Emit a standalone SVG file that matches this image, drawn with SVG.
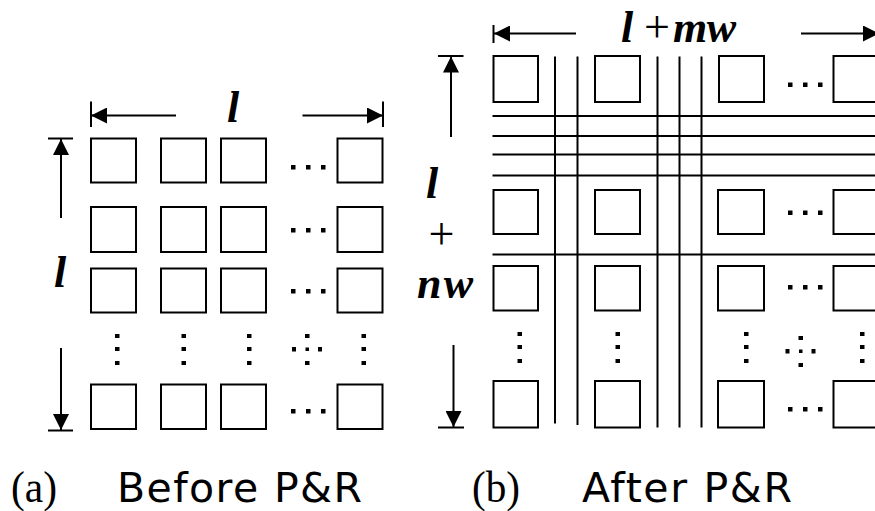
<svg xmlns="http://www.w3.org/2000/svg" width="875" height="511" viewBox="0 0 875 511">
  <defs>
    <style>
      .ln { stroke: #000; stroke-width: 2; fill: none; }
      .cell { stroke: #000; stroke-width: 2; fill: #fff; }
      .dot { fill: #000; }
      .math { font-family: "Liberation Serif", "Times New Roman", serif; font-style: italic; font-weight: bold; font-size: 44px; fill: #000; }
      .op { font-family: "Liberation Serif", "Times New Roman", serif; font-size: 46px; fill: #000; }
      .cap { font-family: "Liberation Serif", "Times New Roman", serif; font-size: 45px; fill: #000; }
      .title { font-family: "DejaVu Sans", Verdana, sans-serif; font-size: 41px; fill: #000; }
    </style>
    <marker id="head" viewBox="0 0 16 16" refX="16" refY="8" markerWidth="16" markerHeight="16" markerUnits="userSpaceOnUse" orient="auto">
      <path d="M0,0 L16,8 L0,16 Z" fill="#000"/>
    </marker>
    <g id="hdots">
      <rect x="-17" y="-2" width="4.5" height="4.5" class="dot"/>
      <rect x="-2" y="-2" width="4.5" height="4.5" class="dot"/>
      <rect x="13" y="-2" width="4.5" height="4.5" class="dot"/>
    </g>
    <g id="vdots">
      <rect x="-2" y="-15" width="4.5" height="4" class="dot"/>
      <rect x="-2" y="-2" width="4.5" height="4" class="dot"/>
      <rect x="-2" y="12" width="4.5" height="4" class="dot"/>
    </g>
    <g id="xdots">
      <rect x="-2" y="-15" width="4.5" height="4" class="dot"/>
      <rect x="-15" y="-2" width="4" height="4.5" class="dot"/>
      <rect x="-1.5" y="-1.5" width="3.5" height="3.5" class="dot"/>
      <rect x="11" y="-2" width="4" height="4.5" class="dot"/>
      <rect x="-2" y="12" width="4.5" height="4" class="dot"/>
    </g>
  </defs>
  <rect width="875" height="511" fill="#fff"/>

  <!-- (a) array before placement and routing -->
  <g id="array-a">
    <g id="a-row1">
      <rect class="cell" x="91" y="138.5" width="45" height="44"/>
      <rect class="cell" x="161" y="138.5" width="45" height="44"/>
      <rect class="cell" x="221" y="138.5" width="45" height="44"/>
      <rect class="cell" x="337.5" y="138.5" width="45" height="44"/>
      <use href="#hdots" x="308" y="167"/>
    </g>
    <g id="a-row2">
      <rect class="cell" x="91" y="207" width="45" height="45"/>
      <rect class="cell" x="161" y="207" width="45" height="45"/>
      <rect class="cell" x="221" y="207" width="45" height="45"/>
      <rect class="cell" x="337.5" y="207" width="45" height="45"/>
      <use href="#hdots" x="308" y="230"/>
    </g>
    <g id="a-row3">
      <rect class="cell" x="91" y="268.5" width="45" height="44"/>
      <rect class="cell" x="161" y="268.5" width="45" height="44"/>
      <rect class="cell" x="221" y="268.5" width="45" height="44"/>
      <rect class="cell" x="337.5" y="268.5" width="45" height="44"/>
      <use href="#hdots" x="308" y="291"/>
    </g>
    <g id="a-gap">
      <use href="#vdots" x="117" y="349"/>
      <use href="#vdots" x="183.5" y="349"/>
      <use href="#vdots" x="249" y="349"/>
      <use href="#xdots" x="307" y="349"/>
      <use href="#vdots" x="363.5" y="349"/>
    </g>
    <g id="a-row4">
      <rect class="cell" x="91" y="384.5" width="45" height="44.5"/>
      <rect class="cell" x="161" y="384.5" width="45" height="44.5"/>
      <rect class="cell" x="221" y="384.5" width="45" height="44.5"/>
      <rect class="cell" x="337.5" y="384.5" width="45" height="44.5"/>
      <use href="#hdots" x="308" y="411"/>
    </g>
  </g>

  <!-- (b) array after placement and routing: cells with routing channels -->
  <g id="array-b">
    <g id="b-row1">
      <rect class="cell" x="493.5" y="56" width="44.5" height="46"/>
      <rect class="cell" x="595" y="56" width="45" height="46"/>
      <rect class="cell" x="719" y="56" width="45" height="46"/>
      <rect class="cell" x="833.5" y="56" width="46" height="46"/>
      <use href="#hdots" x="805" y="84.5"/>
    </g>
    <g id="b-row2">
      <rect class="cell" x="493.5" y="190" width="44.5" height="44"/>
      <rect class="cell" x="595" y="190" width="45" height="44"/>
      <rect class="cell" x="718" y="190" width="46" height="44"/>
      <rect class="cell" x="833.5" y="190" width="46" height="44"/>
      <use href="#hdots" x="805" y="212.5"/>
    </g>
    <g id="b-row3">
      <rect class="cell" x="493.5" y="266" width="44.5" height="44.5"/>
      <rect class="cell" x="595" y="266" width="45" height="44.5"/>
      <rect class="cell" x="718" y="266" width="46" height="44.5"/>
      <rect class="cell" x="833.5" y="266" width="46" height="44.5"/>
      <use href="#hdots" x="805" y="287"/>
    </g>
    <g id="b-gap">
      <use href="#vdots" x="519.5" y="347"/>
      <use href="#vdots" x="617.5" y="347"/>
      <use href="#vdots" x="746" y="347"/>
      <use href="#xdots" x="800.5" y="351"/>
      <use href="#vdots" x="862" y="347"/>
    </g>
    <g id="b-row4">
      <rect class="cell" x="493.5" y="381" width="44.5" height="46.5"/>
      <rect class="cell" x="595" y="381" width="45" height="46.5"/>
      <rect class="cell" x="718" y="381" width="46" height="46.5"/>
      <rect class="cell" x="833.5" y="381" width="46" height="46.5"/>
      <use href="#hdots" x="805" y="409"/>
    </g>
  </g>

  <!-- routing tracks and dimension arrows -->
  <g id="connectors">
    <g id="tracks">
      <line class="ln" x1="492.5" y1="116" x2="875" y2="116"/>
      <line class="ln" x1="492.5" y1="136" x2="875" y2="136"/>
      <line class="ln" x1="492.5" y1="154.5" x2="875" y2="154.5"/>
      <line class="ln" x1="492.5" y1="175.5" x2="875" y2="175.5"/>
      <line class="ln" x1="492.5" y1="254.5" x2="875" y2="254.5"/>
      <line class="ln" x1="555" y1="56.5" x2="555" y2="423.5"/>
      <line class="ln" x1="577.5" y1="56.5" x2="577.5" y2="425"/>
      <line class="ln" x1="657.5" y1="56.5" x2="657.5" y2="427.5"/>
      <line class="ln" x1="679.5" y1="56.5" x2="679.5" y2="427.5"/>
      <line class="ln" x1="701.5" y1="56.5" x2="701.5" y2="427.5"/>
    </g>

    <g id="dim-a-width">
      <line class="ln" x1="91" y1="101.5" x2="91" y2="127"/>
      <line class="ln" x1="383" y1="101.5" x2="383" y2="127"/>
      <line class="ln" x1="176" y1="115.5" x2="91" y2="115.5" marker-end="url(#head)"/>
      <line class="ln" x1="302.5" y1="115.5" x2="383" y2="115.5" marker-end="url(#head)"/>
    </g>
    <g id="dim-a-height">
      <line class="ln" x1="48" y1="138.5" x2="73" y2="138.5"/>
      <line class="ln" x1="48" y1="430.5" x2="73" y2="430.5"/>
      <line class="ln" x1="61" y1="218" x2="61" y2="139" marker-end="url(#head)"/>
      <line class="ln" x1="61" y1="348" x2="61" y2="430" marker-end="url(#head)"/>
    </g>
    <g id="dim-b-width">
      <line class="ln" x1="493.5" y1="25" x2="493.5" y2="43"/>
      <line class="ln" x1="576" y1="33.5" x2="494" y2="33.5" marker-end="url(#head)"/>
      <line class="ln" x1="801" y1="33.5" x2="879" y2="33.5" marker-end="url(#head)"/>
    </g>
    <g id="dim-b-height">
      <line class="ln" x1="438" y1="56" x2="463.5" y2="56"/>
      <line class="ln" x1="438" y1="427.5" x2="464" y2="427.5"/>
      <line class="ln" x1="451" y1="137" x2="451" y2="56.5" marker-end="url(#head)"/>
      <line class="ln" x1="453.5" y1="345" x2="453.5" y2="427" marker-end="url(#head)"/>
    </g>
  </g>

  <!-- dimension labels -->
  <g id="labels">
    <text class="math" x="233" y="122" text-anchor="middle">l</text>
    <text class="math" x="60" y="287" text-anchor="middle">l</text>
    <text x="621" y="41.5"><tspan class="math">l</tspan><tspan class="op" x="644">+</tspan><tspan class="math" x="673" textLength="63">mw</tspan></text>
    <text class="math" x="432" y="198" text-anchor="middle">l</text>
    <text class="op" x="441.5" y="249" text-anchor="middle">+</text>
    <text class="math" x="417" y="298" textLength="56">nw</text>
  </g>

  <!-- captions -->
  <g id="captions">
    <text class="cap" x="11" y="502" textLength="46" lengthAdjust="spacingAndGlyphs">(a)</text>
    <text class="title" x="117" y="501.5" textLength="245">Before P&amp;R</text>
    <text class="cap" x="472" y="502" textLength="48" lengthAdjust="spacingAndGlyphs">(b)</text>
    <text class="title" x="582" y="501.5" textLength="210">After P&amp;R</text>
  </g>
</svg>
